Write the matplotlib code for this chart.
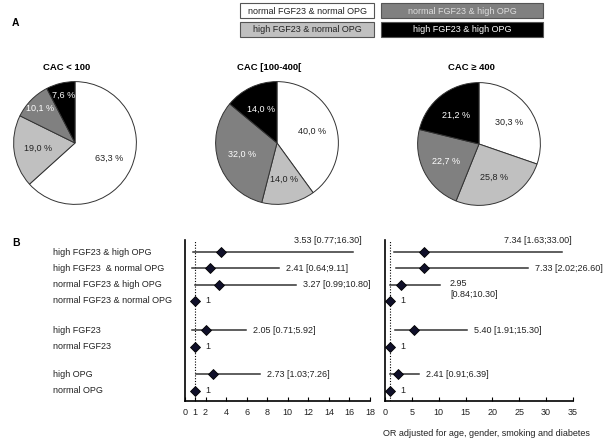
import matplotlib
matplotlib.use('Agg')
import matplotlib.pyplot as plt
from matplotlib.patches import Rectangle
from matplotlib.transforms import blended_transform_factory
import numpy as np

plt.rcParams['font.family'] = ['Liberation Sans', 'DejaVu Sans']

# ---- datos ----
grupos = ['normal FGF23 & normal OPG', 'high FGF23 & normal OPG',
          'normal FGF23 & high OPG', 'high FGF23 & high OPG']
colores = ['#ffffff', '#c0c0c0', '#808080', '#000000']
color_txt = ['#222222', '#222222', '#ffffff', '#ffffff']

titulos_pie = ['CAC < 100', 'CAC [100-400[', 'CAC \u2265 400']
pct_cac100 = [63.3, 19.0, 10.1, 7.6]
pct_cac400 = [40.0, 14.0, 32.0, 14.0]
pct_cacmas = [30.3, 25.8, 22.7, 21.2]

filas = ['high FGF23 & high OPG', 'high FGF23  & normal OPG', 'normal FGF23 & high OPG',
         'normal FGF23 & normal OPG', 'high FGF23', 'normal FGF23', 'high OPG', 'normal OPG']
or_izq = [3.53, 2.41, 3.27, 1, 2.05, 1, 2.73, 1]
lo_izq = [0.77, 0.64, 0.99, None, 0.71, None, 1.03, None]
hi_izq = [16.30, 9.11, 10.80, None, 5.92, None, 7.26, None]
or_der = [7.34, 7.33, 2.95, 1, 5.40, 1, 2.41, 1]
lo_der = [1.63, 2.02, 0.84, None, 1.91, None, 0.91, None]
hi_der = [33.00, 26.60, 10.30, None, 15.30, None, 6.39, None]

ticks_izq = [0, 1, 2, 4, 6, 8, 10, 12, 14, 16, 18]
ticks_der = [0, 5, 10, 15, 20, 25, 30, 35]

W, H = 603, 441
fig = plt.figure(figsize=(W / 100, H / 100), dpi=100)


def px(x, y):
    # pixel (desde arriba) -> coordenadas de figura
    return x / W, 1 - y / H


# ---- leyenda ----
cajas = [(240, 3), (240, 22), (381, 3), (381, 22)]
anchos = [134, 134, 162, 162]
for (x0, y0), w, g, c, tc in zip(cajas, anchos, grupos, colores, color_txt):
    fx, fy = px(x0, y0 + 15)
    fig.patches.append(Rectangle((fx, fy), w / W, 15 / H, transform=fig.transFigure,
                                 facecolor=c, edgecolor='#555555', lw=0.8))
    tcol = '#dddddd' if c == '#808080' else tc
    fig.text(*px(x0 + w / 2, y0 + 8), g, ha='center', va='center', fontsize=6.5, color=tcol)

fig.text(*px(12, 23), 'A', fontsize=7.5, fontweight='bold', va='center')
fig.text(*px(12, 243), 'B', fontsize=7.5, fontweight='bold', va='center')

# ---- tartas ----
centros = [(75, 143), (277, 143), (479, 144)]
r = 62
for (cx, cy), tit, vals in zip(centros, titulos_pie, [pct_cac100, pct_cac400, pct_cacmas]):
    l, b = px(cx - r, cy + r)
    ax = fig.add_axes([l, b, 2 * r / W, 2 * r / H])
    wedges, _ = ax.pie(vals, colors=colores, startangle=90, counterclock=False,
                       wedgeprops=dict(edgecolor='#333333', linewidth=0.7))
    for wd, v, tc in zip(wedges, vals, color_txt):
        ang = np.deg2rad((wd.theta1 + wd.theta2) / 2)
        d = 0.8 if v < 12 else 0.6
        ax.text(d * np.cos(ang), d * np.sin(ang), f'{v:.1f} %'.replace('.', ','),
                ha='center', va='center', fontsize=6.5, color=tc)
    ax.set_xlim(-1.01, 1.01)
    ax.set_ylim(-1.01, 1.01)
    ax.set_aspect('auto')
    ax.axis('off')
    fig.text(*px(cx - 8, 68), tit, ha='center', va='center', fontsize=6.8, fontweight='bold')

# ---- forest plots ----
pos = [0, 1, 2, 3, 4.8, 5.8, 7.5, 8.5]


def forest(rect, ors, los, his, xmax, ticks, arriba, dos_lineas):
    ax = fig.add_axes(rect)
    ax.set_xlim(0, xmax)
    ax.set_ylim(9.14, -0.74)
    ax.axvline(1, color='black', ls=(0, (1, 1.5)), lw=0.8)
    for i, (y, o, lo, hi) in enumerate(zip(pos, ors, los, his)):
        if lo is not None:
            ax.plot([lo, hi], [y, y], color='#333333', lw=1.1)
        ax.plot(o, y, marker='D', ms=5.2, color='#000000', mfc='#10102a', mew=0.6)
        if lo is None:
            ax.annotate('1', (o, y), xytext=(7, 0), textcoords='offset points',
                        va='center', fontsize=6.5, color='#222222')
        elif i == arriba:
            ax.annotate(f'{o:.2f} [{lo:.2f};{hi:.2f}]', (hi, y), xytext=(7, 5),
                        textcoords='offset points', ha='right', va='bottom',
                        fontsize=6.5, color='#222222')
        elif i == dos_lineas:
            ax.annotate(f'{o:.2f}\n[{lo:.2f};{hi:.2f}]', (hi, y), xytext=(7, -3),
                        textcoords='offset points', va='center', fontsize=6.5,
                        color='#222222', linespacing=1.3)
        else:
            ax.annotate(f'{o:.2f} [{lo:.2f};{hi:.2f}]', (hi, y), xytext=(5, 0),
                        textcoords='offset points', va='center', fontsize=6.5,
                        color='#222222')
    ax.set_xticks(ticks)
    ax.set_yticks([])
    ax.tick_params(axis='x', direction='in', length=3, width=0.8, labelsize=6.5,
                   pad=5, labelcolor='#222222')
    for s in ['top', 'right']:
        ax.spines[s].set_visible(False)
    ax.spines['left'].set_linewidth(1.2)
    ax.spines['bottom'].set_linewidth(1.2)
    return ax


bl, bb = px(185, 401)
axL = forest([bl, bb, 185 / W, 161 / H], or_izq, lo_izq, hi_izq, 18, ticks_izq, 0, None)
rl, _ = px(385, 401)
axR = forest([rl, bb, 188 / W, 161 / H], or_der, lo_der, hi_der, 35, ticks_der, 0, 2)

trans = blended_transform_factory(fig.transFigure, axL.transData)
for y, f in zip(pos, filas):
    axL.text(53 / W, y, f, transform=trans, ha='left', va='center', fontsize=6.5,
             color='#222222', clip_on=False)

fig.text(*px(486, 433), 'OR adjusted for age, gender, smoking and diabetes',
         ha='center', va='center', fontsize=6.5, color='#222222')

fig.savefig('out.png', dpi=100)
